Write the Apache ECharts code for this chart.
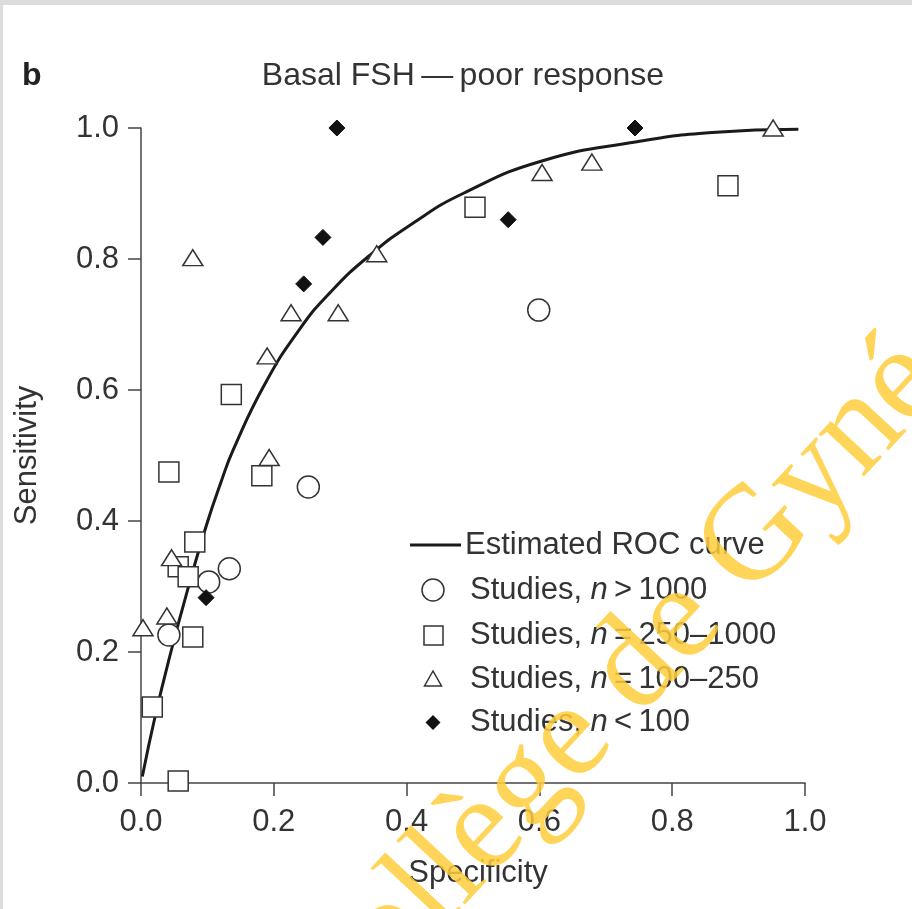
<!DOCTYPE html>
<html>
<head>
<meta charset="utf-8">
<script src="https://cdn.jsdelivr.net/npm/echarts@6/dist/echarts.min.js"></script>
<style>
  html, body { margin: 0; padding: 0; background: #ffffff; }
  #chart { width: 912px; height: 909px; }
</style>
</head>
<body>
<div id="chart"></div>
<script>
// Axis ticks (specificity on x, sensitivity on y)
const xTicks = [0.0, 0.2, 0.4, 0.6, 0.8, 1.0];
const yTicks = [0.0, 0.2, 0.4, 0.6, 0.8, 1.0];

// Study results by sample size: [specificity, sensitivity]
const studiesOver1000 = [
  [0.042, 0.226], [0.102, 0.307], [0.133, 0.327], [0.252, 0.452], [0.599, 0.722]
];
const studies250to1000 = [
  [0.136, 0.593], [0.042, 0.475], [0.182, 0.469], [0.081, 0.368], [0.056, 0.330],
  [0.071, 0.315], [0.078, 0.223], [0.017, 0.116], [0.056, 0.003], [0.503, 0.879],
  [0.884, 0.912]
];
const studies100to250 = [
  [0.078, 0.802], [0.226, 0.718], [0.297, 0.718], [0.190, 0.652], [0.355, 0.808],
  [0.193, 0.497], [0.046, 0.344], [0.039, 0.255], [0.003, 0.237], [0.604, 0.932],
  [0.679, 0.948], [0.952, 1.000]
];
const studiesUnder100 = [
  [0.295, 1.000], [0.274, 0.833], [0.245, 0.762], [0.098, 0.283], [0.553, 0.860],
  [0.744, 1.000]
];

// Estimated summary ROC curve
const rocCurve = [
  [0.002, 0.010], [0.022, 0.105], [0.045, 0.200], [0.070, 0.294], [0.099, 0.395],
  [0.120, 0.458], [0.139, 0.509], [0.187, 0.610], [0.239, 0.693], [0.286, 0.750],
  [0.345, 0.806], [0.410, 0.855], [0.485, 0.900], [0.605, 0.950], [0.747, 0.979],
  [0.860, 0.993], [0.990, 0.998]
];

const FONT = '"Liberation Sans", Arial, Helvetica, sans-serif';
const INK = '#333333';
const STROKE = '#333333';

const chart = echarts.init(document.getElementById('chart'), null, { renderer: 'canvas' });

const hollow = { color: '#ffffff', borderColor: STROKE, borderWidth: 1.5, opacity: 1 };

// Legend rows: text beside hand-placed marker glyphs
function legendText(y, parts) {
  return {
    type: 'text', x: 470, y: y, z: 20,
    style: {
      text: parts, textVerticalAlign: 'middle', textAlign: 'left',
      rich: {
        t: { fontSize: 31, fontFamily: FONT, fill: INK },
        i: { fontSize: 31, fontFamily: FONT, fill: INK, fontStyle: 'italic' }
      }
    }
  };
}

const option = {
  backgroundColor: '#ffffff',
  animation: false,
  grid: { left: 141, top: 128, right: 107, bottom: 126, containLabel: false },
  xAxis: {
    type: 'value', min: xTicks[0], max: xTicks[xTicks.length - 1], interval: 0.2,
    name: 'Specificity', nameLocation: 'middle', nameGap: 75,
    nameTextStyle: { fontSize: 31, fontFamily: FONT, color: INK, padding: [0, 0, 0, 10] },
    axisLine: { show: true, onZero: false, lineStyle: { color: '#444', width: 1.5 } },
    axisTick: { show: true, inside: false, length: 13, lineStyle: { color: '#444', width: 1.5 } },
    axisLabel: { fontSize: 31, fontFamily: FONT, color: INK, margin: 24,
      formatter: v => v.toFixed(1) },
    splitLine: { show: false }
  },
  yAxis: {
    type: 'value', min: yTicks[0], max: yTicks[yTicks.length - 1], interval: 0.2,
    name: 'Sensitivity', nameLocation: 'middle', nameGap: 98, nameRotate: 90,
    nameTextStyle: { fontSize: 31, fontFamily: FONT, color: INK },
    axisLine: { show: true, onZero: false, lineStyle: { color: '#444', width: 1.5 } },
    axisTick: { show: true, inside: false, length: 13, lineStyle: { color: '#444', width: 1.5 } },
    axisLabel: { fontSize: 31, fontFamily: FONT, color: INK, margin: 22,
      formatter: v => v.toFixed(1) },
    splitLine: { show: false }
  },
  series: [
    {
      name: 'Estimated ROC curve', type: 'line', data: rocCurve, smooth: 0.5,
      showSymbol: false, z: 3,
      lineStyle: { color: '#1a1a1a', width: 3 }
    },
    {
      name: 'Studies, n>1000', type: 'scatter', data: studiesOver1000, z: 4,
      symbol: 'circle', symbolSize: 22, itemStyle: hollow
    },
    {
      name: 'Studies, n=250-1000', type: 'scatter', data: studies250to1000, z: 4,
      symbol: 'rect', symbolSize: 20, itemStyle: hollow
    },
    {
      name: 'Studies, n=100-250', type: 'scatter', data: studies100to250, z: 4,
      symbol: 'triangle', symbolSize: [20, 16], itemStyle: hollow
    },
    {
      name: 'Studies, n<100', type: 'scatter', data: studiesUnder100, z: 5,
      symbol: 'diamond', symbolSize: 16,
      itemStyle: { color: '#111', borderColor: '#111', borderWidth: 1, opacity: 1 }
    }
  ],
  graphic: [
    // page frame
    { type: 'rect', shape: { x: 0, y: 0, width: 912, height: 5 }, style: { fill: '#dcdcdc' }, z: 1 },
    { type: 'rect', shape: { x: 0, y: 0, width: 3, height: 909 }, style: { fill: '#dcdcdc' }, z: 1 },
    // panel letter and title
    { type: 'text', x: 22, y: 76, style: { text: 'b', fontSize: 32, fontWeight: 'bold',
      fontFamily: FONT, fill: '#222', textVerticalAlign: 'middle' } },
    { type: 'text', x: 463, y: 76, style: { text: 'Basal FSH\u2009\u2014\u2009poor response',
      fontSize: 32, fontFamily: FONT, fill: INK, textAlign: 'center', textVerticalAlign: 'middle' } },
    // legend
    { type: 'line', shape: { x1: 410, y1: 545, x2: 461, y2: 545 }, style: { stroke: '#1a1a1a', lineWidth: 3 }, z: 20 },
    { type: 'text', x: 465, y: 545, z: 20, style: { text: 'Estimated ROC curve', fontSize: 31,
      fontFamily: FONT, fill: INK, textVerticalAlign: 'middle' } },
    { type: 'circle', shape: { cx: 433, cy: 590, r: 11 }, style: { fill: '#fff', stroke: STROKE, lineWidth: 1.5 }, z: 20 },
    { type: 'rect', shape: { x: 424, y: 626, width: 19, height: 19 }, style: { fill: '#fff', stroke: STROKE, lineWidth: 1.5 }, z: 20 },
    { type: 'polygon', shape: { points: [[433, 671], [424.5, 686], [441.5, 686]] },
      style: { fill: '#fff', stroke: STROKE, lineWidth: 1.5 }, z: 20 },
    { type: 'polygon', shape: { points: [[433, 715], [440.5, 722.5], [433, 730], [425.5, 722.5]] },
      style: { fill: '#111' }, z: 20 },
    legendText(590, '{t|Studies, }{i|n}{t|\u2009>\u20091000}'),
    legendText(635, '{t|Studies, }{i|n}{t|\u2009=\u2009250\u20131000}'),
    legendText(679, '{t|Studies, }{i|n}{t|\u2009=\u2009100\u2013250}'),
    legendText(722, '{t|Studies, }{i|n}{t|\u2009<\u2009100}'),
    // publisher watermark
    { type: 'text', x: 304, y: 1025, rotation: 47 * Math.PI / 180, z: 100,
      style: { text: 'Collège de Gynécologie', fontSize: 135,
        fontFamily: '"Liberation Serif", "DejaVu Serif", serif',
        fill: 'rgba(255, 206, 60, 0.85)', textAlign: 'left', textVerticalAlign: 'middle' } }
  ]
};

chart.setOption(option);
</script>
</body>
</html>
